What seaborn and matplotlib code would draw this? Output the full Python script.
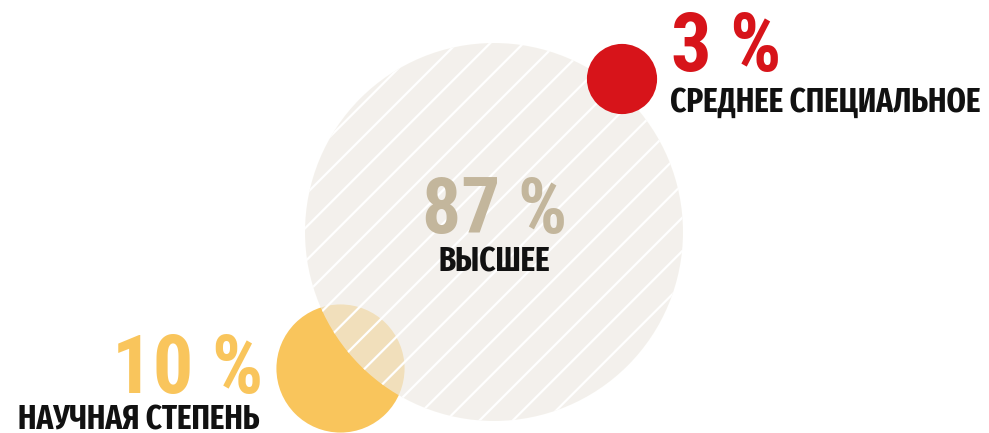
import matplotlib
matplotlib.use("Agg")
import matplotlib.pyplot as plt
import seaborn as sns
import pandas as pd

# ---- data ----
categories = ["НАУЧНАЯ СТЕПЕНЬ", "ВЫСШЕЕ", "СРЕДНЕЕ СПЕЦИАЛЬНОЕ"]
values = [10, 87, 3]
value_labels = ["10 %", "87 %", "3 %"]

# ---- layout / style (pixel-like coordinates) ----
pos_x = [340.5, 494, 622]
pos_y = [368.5, 232, 79]
fills = ["#f9c55c", "#efebe4", "#d7141a"]
alphas = [1.0, 0.7, 1.0]
hatches = [None, "//", None]
num_colors = ["#f9c55c", "#c3b69c", "#d7141a"]

sns.set_theme(style="white")
plt.rcParams["font.family"] = ["Roboto Condensed", "DejaVu Sans"]
plt.rcParams["hatch.color"] = "white"
plt.rcParams["hatch.linewidth"] = 0.8
LABEL_FAMILY = ["Fira Sans Extra Condensed", "Roboto Condensed", "DejaVu Sans"]

DPI = 200
W, H = 989, 433
fig = plt.figure(figsize=(W / DPI, H / DPI), dpi=DPI)
ax = fig.add_axes([0, 0, 1, 1])
ax.set_xlim(0, W)
ax.set_ylim(H, 0)
ax.axis("off")

df = pd.DataFrame({"cat": categories, "value": values, "x": pos_x, "y": pos_y})

# area proportional to value: big circle radius ~189 px
r_big_pt = 189 * 72 / DPI
k = (2 * r_big_pt) ** 2 / 87.0
vmin, vmax = min(values), max(values)

for i, row in df.iterrows():
    kw = {}
    if hatches[i]:
        kw["hatch"] = hatches[i]
    sns.scatterplot(data=df.iloc[[i]], x="x", y="y", size="value",
                    sizes=(k * vmin, k * vmax), size_norm=(vmin, vmax),
                    color=fills[i], alpha=alphas[i], linewidth=0,
                    edgecolor="none", legend=False, ax=ax, zorder=2 + i, **kw)

ax.set_xlim(0, W)
ax.set_ylim(H, 0)

fs_87 = 27.8
fs_num = 29.0
fs_lab = 12.1

# 87 % / ВЫСШЕЕ
ax.text(495, 233, value_labels[1], ha="center", va="baseline", fontsize=fs_87,
        fontweight="bold", color=num_colors[1], zorder=10)
ax.text(494, 272, categories[1], ha="center", va="baseline", fontsize=fs_lab,
        fontweight="bold", color="#111111", zorder=10, family=LABEL_FAMILY)

# 3 % / СРЕДНЕЕ СПЕЦИАЛЬНОЕ
ax.text(671, 71, value_labels[2], ha="left", va="baseline", fontsize=fs_num,
        fontweight="bold", color=num_colors[2], zorder=10)
ax.text(670, 112, categories[2], ha="left", va="baseline", fontsize=fs_lab,
        fontweight="bold", color="#111111", zorder=10, family=LABEL_FAMILY)

# 10 % / НАУЧНАЯ СТЕПЕНЬ
ax.text(263, 393, value_labels[0], ha="right", va="baseline", fontsize=fs_num,
        fontweight="bold", color=num_colors[0], zorder=10)
ax.text(260, 429, categories[0], ha="right", va="baseline", fontsize=fs_lab,
        fontweight="bold", color="#111111", zorder=10, family=LABEL_FAMILY)

fig.savefig("out.png", dpi=DPI)
